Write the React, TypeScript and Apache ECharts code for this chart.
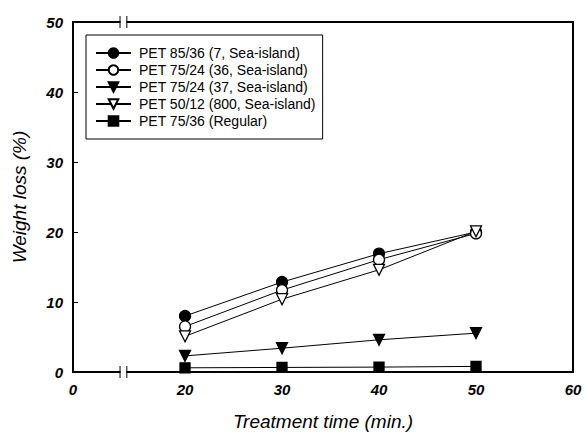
import React, { useEffect, useRef } from "react";
import * as echarts from "echarts";

const xValues = [20, 30, 40, 50];
const seriesNames = [
  "PET 85/36 (7, Sea-island)",
  "PET 75/24 (36, Sea-island)",
  "PET 75/24 (37, Sea-island)",
  "PET 50/12 (800, Sea-island)",
  "PET 75/36 (Regular)",
];
const s1 = [8.0, 12.85, 16.9, 20.0];
const s2 = [6.5, 11.7, 16.05, 19.8];
const s3 = [2.3, 3.4, 4.6, 5.55];
const s4 = [5.1, 10.4, 14.6, 20.1];
const s5 = [0.6, 0.65, 0.7, 0.8];
const xTickLabels = [20, 30, 40, 50, 60];
const X_MIN = 8.45;
const X_MAX = 60;
const BREAK_START = 13.3;
const BREAK_END = 14.0;

const FONT = "Arial, 'Liberation Sans', sans-serif";

export default function App() {
  const ref = useRef<HTMLDivElement>(null);
  useEffect(() => {
    if (!ref.current) return;
    const chart = echarts.init(ref.current, null, { renderer: "svg" });
    const mk = (arr: number[]) => xValues.map((x, i) => [x, arr[i]]);
    const symbols = [
      { symbol: "circle", size: 11, fill: "#000", rotate: 0 },
      { symbol: "circle", size: 11, fill: "#fff", rotate: 0 },
      { symbol: "triangle", size: 11, fill: "#000", rotate: 180 },
      { symbol: "triangle", size: 11, fill: "#fff", rotate: 180 },
      { symbol: "rect", size: 10, fill: "#000", rotate: 0 },
    ];
    const datas = [s1, s2, s3, s4, s5];
    const series = datas.map((d, i) => ({
      name: seriesNames[i],
      type: "line",
      data: mk(d),
      symbol: symbols[i].symbol,
      symbolSize: symbols[i].size,
      symbolRotate: symbols[i].rotate,
      showAllSymbol: true,
      lineStyle: { color: "#000", width: 1 },
      itemStyle: { color: symbols[i].fill, borderColor: "#000", borderWidth: 1.3 },
      z: 3,
    }));
    const option: any = {
      animation: false,
      backgroundColor: "#fff",
      grid: {
        left: 73,
        right: 12,
        top: 22,
        bottom: 60,
        show: true,
        borderColor: "#000",
        borderWidth: 2,
        containLabel: false,
      },
      legend: {
        orient: "vertical",
        left: 86,
        top: 35,
        padding: [11, 7, 11, 9],
        itemGap: 3,
        itemWidth: 35,
        itemHeight: 12,
        borderColor: "#000",
        borderWidth: 1,
        textStyle: { fontFamily: FONT, fontSize: 14, color: "#000", padding: [0, 0, 0, 3] },
        data: seriesNames,
      },
      xAxis: {
        type: "value",
        min: X_MIN,
        max: X_MAX,
        name: "Treatment time (min.)",
        nameLocation: "middle",
        nameGap: 40,
        nameTextStyle: { fontFamily: FONT, fontSize: 19, fontStyle: "italic", color: "#000" },
        axisLine: { show: true, lineStyle: { color: "#000", width: 2 } },
        axisTick: { show: false },
        splitLine: { show: false },
        axisLabel: {
          customValues: [X_MIN, ...xTickLabels],
          formatter: (v: number) => (v < 15 ? "0" : String(Math.round(v))),
          fontFamily: FONT,
          fontSize: 15,
          fontWeight: "bold",
          fontStyle: "italic",
          color: "#000",
          margin: 10,
        },
      },
      yAxis: {
        type: "value",
        min: 0,
        max: 50,
        interval: 10,
        name: "Weight loss (%)",
        nameLocation: "middle",
        nameGap: 44,
        nameTextStyle: { fontFamily: FONT, fontSize: 19, fontStyle: "italic", color: "#000" },
        axisLine: { show: true, lineStyle: { color: "#000", width: 2 } },
        axisTick: { show: true, inside: true, length: 5, lineStyle: { color: "#000", width: 1 } },
        splitLine: { show: false },
        axisLabel: {
          fontFamily: FONT,
          fontSize: 15,
          fontWeight: "bold",
          fontStyle: "italic",
          color: "#000",
          margin: 10,
        },
      },
      series,
    };
    chart.setOption(option);

    const x1 = chart.convertToPixel({ gridIndex: 0 }, [BREAK_START, 0]) as number[];
    const x2 = chart.convertToPixel({ gridIndex: 0 }, [BREAK_END, 0]) as number[];
    const top = chart.convertToPixel({ gridIndex: 0 }, [BREAK_START, 50]) as number[];
    const graphics: any[] = [];
    [x1[1], top[1]].forEach((yy) => {
      graphics.push({
        type: "rect",
        shape: { x: x1[0] + 0.5, y: yy - 3, width: x2[0] - x1[0] - 1, height: 6 },
        style: { fill: "#fff" },
        z: 10,
      });
      [x1[0], x2[0]].forEach((xx) => {
        graphics.push({
          type: "line",
          shape: { x1: xx, y1: yy - 6, x2: xx, y2: yy + 6 },
          style: { stroke: "#000", lineWidth: 1 },
          z: 11,
        });
      });
    });
    chart.setOption({ graphic: graphics });

    return () => chart.dispose();
  }, []);
  return (
    <div
      ref={ref}
      style={{ position: "fixed", left: 0, top: 0, width: 585, height: 436 }}
    />
  );
}
